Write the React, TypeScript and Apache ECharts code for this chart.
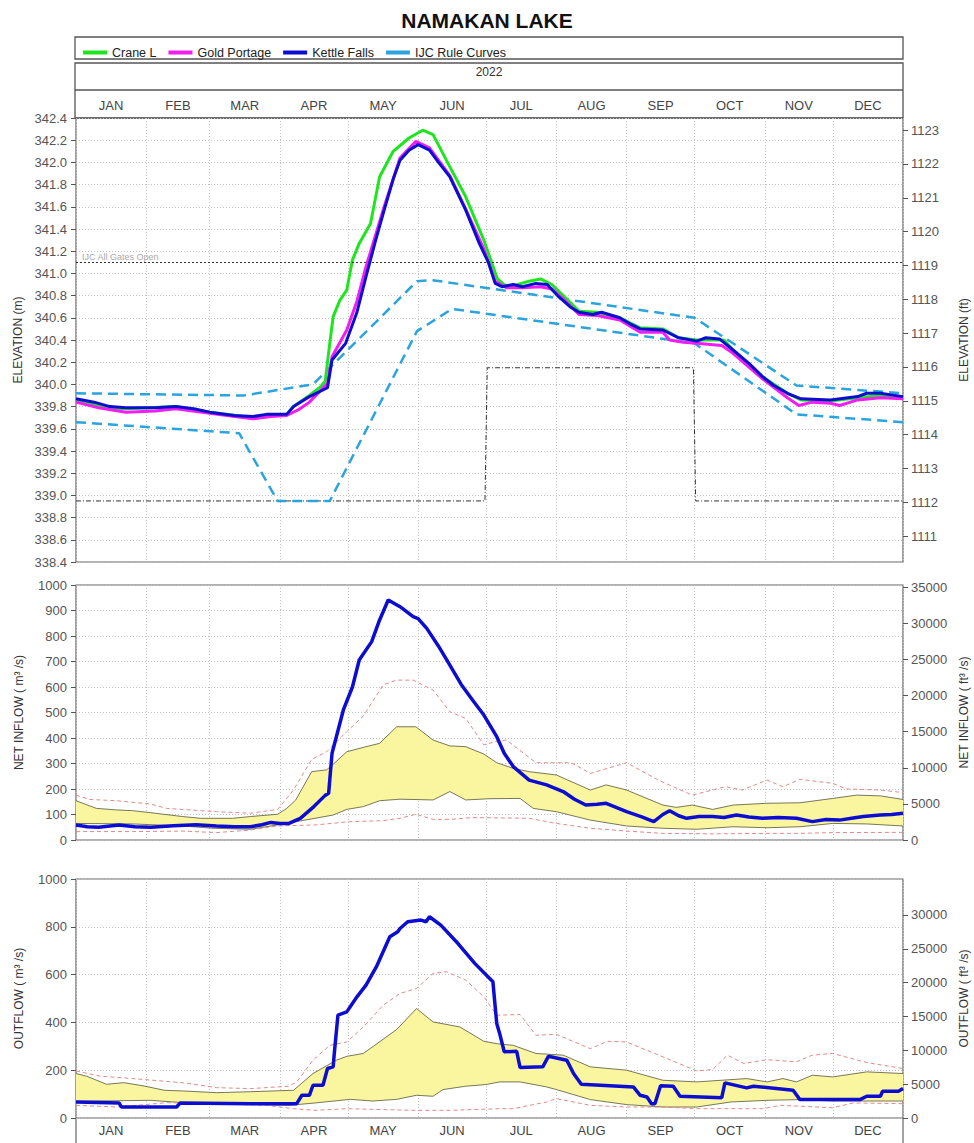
import React, { useEffect, useRef } from 'react';
import * as echarts from 'echarts';

const FONT = 'Arial, "Liberation Sans", Helvetica, sans-serif';

const titleText = 'NAMAKAN LAKE';
const yearLabel = '2022';
const months = ['JAN', 'FEB', 'MAR', 'APR', 'MAY', 'JUN', 'JUL', 'AUG', 'SEP', 'OCT', 'NOV', 'DEC'];
const monthStarts = [0, 31, 59, 90, 120, 151, 181, 212, 243, 273, 304, 334, 365];
const monthMids = months.map((_, i) => (monthStarts[i] + monthStarts[i + 1]) / 2);

const elevTicksFt = [1111, 1112, 1113, 1114, 1115, 1116, 1117, 1118, 1119, 1120, 1121, 1122, 1123];
const inflowTicksCfs = [0, 5000, 10000, 15000, 20000, 25000, 30000, 35000];
const outflowTicksCfs = [0, 5000, 10000, 15000, 20000, 25000, 30000];
const M_PER_FT = 0.3048;
const CFS_PER_CMS = 35.3147;
const gatesOpenLevel = 341.1;

// ---- Elevation (m), [day of year, value] ----
const craneL = [[0,339.86],[15,339.79],[22,339.78],[44,339.80],[59,339.75],[78,339.70],[93,339.73],[96,339.80],[103,339.90],[108,339.98],[110,340.03],[112,340.37],[113.5,340.61],[116.5,340.76],[119.5,340.85],[122,341.12],[125,341.27],[130,341.45],[134,341.87],[140,342.10],[147,342.22],[153,342.29],[157.6,342.25],[165,341.96],[172,341.69],[180,341.30],[186,340.95],[190,340.88],[195,340.90],[200,340.93],[205,340.95],[210,340.90],[215,340.80],[222,340.66],[230,340.65],[240,340.60],[249,340.51],[259,340.50],[266,340.42],[274,340.40],[280,340.40],[286,340.40],[290,340.31],[303,340.07],[314,339.92],[320,339.86],[333,339.85],[345,339.88],[355,339.90],[365,339.88]];
const goldPortage = [[0,339.84],[10,339.79],[22,339.75],[35,339.76],[44,339.78],[59,339.74],[70,339.71],[78,339.69],[86,339.71],[93,339.72],[98,339.77],[103,339.84],[111,340.01],[113,340.25],[119.5,340.49],[124,340.75],[128,341.06],[136,341.60],[143,342.04],[150,342.19],[156,342.13],[165,341.88],[172,341.58],[180,341.22],[185,340.93],[190,340.87],[197,340.87],[205,340.88],[210,340.86],[215,340.77],[222,340.63],[230,340.62],[240,340.58],[249,340.47],[259,340.47],[262,340.40],[268,340.38],[274,340.37],[280,340.36],[285,340.35],[290,340.28],[303,340.05],[314,339.88],[319,339.81],[325,339.84],[333,339.83],[337,339.81],[345,339.86],[355,339.88],[365,339.87]];
const kettleFallsElev = [[0,339.87],[8,339.84],[15,339.80],[22,339.79],[35,339.79],[44,339.80],[52,339.78],[59,339.75],[70,339.72],[78,339.71],[84,339.73],[93,339.73],[96,339.80],[103,339.89],[111,339.97],[113,340.22],[119,340.37],[124,340.65],[128,340.97],[132,341.28],[136,341.57],[140,341.85],[143,342.02],[147,342.11],[151,342.16],[156,342.11],[160,342.00],[165,341.87],[172,341.57],[178,341.27],[182,341.10],[185,340.91],[188,340.88],[193,340.90],[197,340.88],[203,340.91],[208,340.90],[213,340.79],[218,340.70],[222,340.65],[228,340.63],[232,340.65],[240,340.60],[245,340.54],[249,340.50],[259,340.49],[266,340.42],[274,340.39],[278,340.42],[284,340.41],[290,340.31],[297,340.19],[303,340.07],[308,339.99],[314,339.92],[320,339.87],[333,339.86],[345,339.89],[349,339.92],[355,339.92],[365,339.89]];
const ruleUpper = [[0,339.92],[74,339.90],[104.6,340.00],[150.5,340.93],[157,340.94],[273,340.60],[318,339.99],[365,339.92]];
const ruleLower = [[0,339.66],[72,339.56],[89,338.95],[112,338.95],[150.5,340.48],[166,340.68],[273,340.37],[318,339.73],[365,339.66]];
const droughtLine = [[0,338.95],[180.5,338.95],[181.5,340.15],[272.5,340.15],[273.5,338.95],[365,338.95]];

// ---- Net inflow (m3/s) ----
const inflowKettle = [[0,59],[5,52],[10,50],[19,59],[26,52],[33,50],[43,56],[53,60],[62,55],[70,52],[77,52],[82,60],[86,69],[90,65],[94,65],[99,85],[105,131],[110,175],[111.5,183],[113,340],[118,510],[122,600],[125,706],[130.5,778],[134,863],[137.8,941],[143,915],[148.8,876],[151,868],[154.8,830],[160,760],[165,686],[170,610],[175,549],[180,490],[185.7,405],[189,340],[193,288],[200,235],[207.7,216],[215,190],[220,160],[225,137],[230,140],[234,144],[243,111],[250,90],[255,72],[259,100],[262,115],[266,95],[269.5,85],[275,92],[281,92],[286,88],[291.5,98],[297,90],[303,85],[310,88],[318,85],[325,72],[331,80],[337,78],[343,86],[347.5,92],[355,98],[360,100],[365,105]];
const inflowBandUpper = [[0,154],[9,124],[18,118],[25,115],[33,107],[47,92],[55,85],[69,85],[77,92],[89,101],[93,124],[97,157],[104,268],[110.6,275],[114,301],[119.5,346],[128,366],[134,379],[141.5,444],[150,444],[157.6,392],[165,369],[172,366],[180,337],[185.7,303],[193,281],[200,268],[212,255],[227,196],[234,216],[243,196],[259,137],[265,128],[272,137],[281,120],[290,137],[305,144],[319.5,146],[334,163],[344.6,176],[355,173],[365,159]];
const inflowBandLower = [[0,65],[25,63],[47,55],[60.5,46],[77,42],[93,65],[113.5,98],[119.5,120],[126.8,131],[134,154],[143,160],[157.6,157],[165,190],[172,157],[182.7,162],[196,163],[201.8,124],[212,111],[227,78],[243,55],[259,46],[274,42],[290,52],[305,48],[319.5,52],[334,65],[349,63],[365,55]];
const inflowMax = [[0,176],[6,159],[18,154],[33,141],[40,124],[62,111],[77,105],[89,120],[96,196],[104,316],[110.6,346],[119.5,425],[126.8,486],[135.6,608],[141.5,627],[148.8,627],[157.6,588],[165,503],[172,477],[180,373],[185,386],[190,392],[203,303],[218.6,303],[227,261],[243,303],[257,235],[272,176],[286.6,209],[294,196],[305,235],[312,209],[319.5,238],[334,222],[340,200],[355,196],[365,186]];
const inflowMin = [[0,33],[25,33],[47,35],[62,29],[77,39],[89,55],[105.6,59],[121,72],[135.6,76],[143,85],[150,101],[157.6,81],[165,81],[175,88],[200,85],[212,65],[227,46],[243,35],[259,26],[281,24],[305,26],[319.5,26],[334,29],[365,30]];

// ---- Outflow (m3/s) ----
const outflowKettle = [[0,67],[19,63],[20,46],[44.4,46],[46,63],[77,60],[97.4,60],[99.7,95],[103,95],[104.6,137],[109,137],[111,207],[113.5,214],[114,270],[115.6,430],[119.5,444],[124,507],[128,556],[132.6,633],[138.5,758],[142,779],[143,793],[146.4,821],[152.3,828],[154.5,821],[156,842],[161,807],[168.6,730],[176,647],[184,570],[185.7,395],[187,353],[189,277],[194.5,279],[196,211],[206,214],[208.5,258],[216.6,242],[219.6,186],[223,141],[246,130],[249,95],[252,88],[254,60],[255.5,60],[258,135],[263.6,133],[266.6,91],[285,85],[286.4,147],[296,126],[299,133],[316.5,116],[319.5,77],[346,77],[349,91],[355,91],[356,112],[363,112],[365,123]];
const outflowBandUpper = [[0,186],[4.7,175],[13.5,141],[21,148],[30,134],[39,116],[47.5,113],[62,106],[77,110],[96,116],[104.6,186],[115,242],[119.5,258],[126.8,270],[141.5,370],[150.3,458],[157.6,402],[169.4,381],[180,321],[185.7,311],[193,304],[203,270],[215,263],[227,214],[243,200],[259,158],[274,151],[296,165],[305,151],[312,165],[318,151],[325,179],[334,172],[349,193],[365,186]];
const outflowBandLower = [[0,70],[32.7,74],[47.5,64],[62,60],[94,53],[105.6,63],[121,78],[131,71],[141.5,78],[150.3,95],[157.6,91],[162,119],[172,133],[181,140],[187,151],[196,151],[207.7,130],[212,119],[227,77],[243,56],[259,46],[274,46],[289,67],[305,74],[319.5,77],[334,71],[365,71]];
const outflowMax = [[0,197],[10.6,175],[25,165],[47.5,147],[62,127],[77,123],[94,133],[97.4,151],[104.6,242],[112,304],[119.5,318],[126.8,381],[135.6,472],[143,521],[150.3,542],[157.6,605],[163.5,612],[172,577],[180,507],[185.7,430],[196,433],[203,346],[212,350],[227,290],[234.6,321],[243,318],[259,256],[274,197],[281,203],[287.5,263],[294.8,228],[305,244],[318,235],[325,263],[334,270],[349,232],[365,207]];
const outflowMin = [[0,53],[18,46],[40,64],[62,60],[84,53],[96,39],[105.6,32],[119.5,39],[135.6,35],[150,32],[165,32],[187,39],[193,39],[207.7,67],[212,81],[227,53],[243,46],[259,46],[274,39],[303,39],[311,53],[334,43],[343,63],[365,60]];

const C_GREEN = '#1ee61e';
const C_MAGENTA = '#f01ef0';
const C_BLUE = '#0d0dd2';
const C_RULE = '#2ba3dd';
const C_RED = '#e08a8a';
const C_BAND = '#faf6a0';
const C_EDGE = '#55553a';

const monthName = (v: number) => {
  let best = 0;
  monthMids.forEach((m, i) => { if (Math.abs(m - v) < Math.abs(monthMids[best] - v)) best = i; });
  return months[best];
};

const dotted = { show: true, lineStyle: { color: '#c2c2c2', type: [1, 2] as any, width: 1 } };
const tickLabel = { color: '#555', fontSize: 13, fontFamily: FONT };
const nameStyle = { color: '#333', fontSize: 12, fontFamily: FONT };

function xAxisFor(gridIndex: number, position: string, showLabels: boolean) {
  return {
    type: 'value', gridIndex, min: 0, max: 365, position,
    axisLine: { show: false },
    axisTick: { show: false, customValues: monthStarts },
    axisLabel: showLabels
      ? { show: true, customValues: monthMids, formatter: monthName, color: '#444', fontSize: 13, fontFamily: FONT, margin: 6 }
      : { show: false },
    splitLine: dotted,
  };
}

function bandSeries(upper: number[][], lower: number[][], xi: number, yi: number) {
  return {
    type: 'custom', xAxisIndex: xi, yAxisIndex: yi, silent: true, z: 1,
    data: [[0, 0]],
    renderItem: (_p: any, api: any) => {
      const pts = upper.map((p) => api.coord(p)).concat(lower.slice().reverse().map((p) => api.coord(p)));
      return { type: 'polygon', shape: { points: pts }, style: { fill: C_BAND, stroke: null } };
    },
  };
}

function thin(data: number[][], xi: number, yi: number, color: string, dashed: boolean) {
  return {
    type: 'line', xAxisIndex: xi, yAxisIndex: yi, data, showSymbol: false, silent: true, z: 2,
    lineStyle: { color, width: dashed ? 1 : 0.8, type: dashed ? [4, 3] : 'solid' },
  };
}

function mainLine(name: string, data: number[][], xi: number, yi: number, color: string, width: number, z: number) {
  return {
    name, type: 'line', xAxisIndex: xi, yAxisIndex: yi, data, showSymbol: false, z,
    lineStyle: { color, width }, itemStyle: { color },
  };
}

const gridBase = { left: 76, width: 827, show: true, borderColor: '#666', borderWidth: 1.2, containLabel: false, outerBoundsMode: 'none' };

export default function App() {
  const ref = useRef<HTMLDivElement>(null);
  useEffect(() => {
    if (!ref.current) return;
    const chart = echarts.init(ref.current, null, { renderer: 'svg' });
    const option: any = {
      animation: false,
      backgroundColor: '#fff',
      textStyle: { fontFamily: FONT },
      title: { text: titleText, left: 'center', top: 5, textStyle: { fontSize: 21, fontWeight: 'bold', color: '#111', fontFamily: FONT } },
      legend: {
        data: ['Crane L', 'Gold Portage', 'Kettle Falls', 'IJC Rule Curves'],
        left: 78, top: 41, icon: 'rect', itemWidth: 24, itemHeight: 4, itemGap: 12,
        textStyle: { fontSize: 12.5, color: '#222', fontFamily: FONT },
      },
      grid: [
        { ...gridBase, top: 118, height: 444 },
        { ...gridBase, top: 585, height: 255 },
        { ...gridBase, top: 879, height: 239 },
      ],
      xAxis: [xAxisFor(0, 'top', true), xAxisFor(1, 'bottom', false), xAxisFor(2, 'bottom', true)],
      yAxis: [
        {
          type: 'value', gridIndex: 0, position: 'left', min: 338.4, max: 342.4, interval: 0.2,
          axisLine: { show: false }, axisTick: { show: true, length: 5, lineStyle: { color: '#555' } },
          axisLabel: { ...tickLabel, margin: 9, formatter: (v: number) => v.toFixed(1) },
          splitLine: dotted,
          name: 'ELEVATION (m)', nameLocation: 'middle', nameGap: 52, nameRotate: 90, nameTextStyle: nameStyle,
        },
        {
          type: 'value', gridIndex: 0, position: 'right', min: 338.4 / M_PER_FT, max: 342.4 / M_PER_FT,
          axisLine: { show: false }, axisTick: { show: true, length: 5, customValues: elevTicksFt, lineStyle: { color: '#555' } },
          axisLabel: { ...tickLabel, margin: 8, customValues: elevTicksFt, formatter: (v: number) => String(Math.round(v)) },
          splitLine: { show: false },
          name: 'ELEVATION (ft)', nameLocation: 'middle', nameGap: 55, nameRotate: 90, nameTextStyle: nameStyle,
        },
        {
          type: 'value', gridIndex: 1, position: 'left', min: 0, max: 1000, interval: 100,
          axisLine: { show: false }, axisTick: { show: true, length: 5, lineStyle: { color: '#555' } },
          axisLabel: { ...tickLabel, margin: 9, formatter: (v: number) => String(v) },
          splitLine: dotted,
          name: 'NET INFLOW ( m³ /s)', nameLocation: 'middle', nameGap: 51, nameRotate: 90, nameTextStyle: nameStyle,
        },
        {
          type: 'value', gridIndex: 1, position: 'right', min: 0, max: 1000 * CFS_PER_CMS,
          axisLine: { show: false }, axisTick: { show: true, length: 5, customValues: inflowTicksCfs, lineStyle: { color: '#555' } },
          axisLabel: { ...tickLabel, margin: 8, customValues: inflowTicksCfs, formatter: (v: number) => String(Math.round(v)) },
          splitLine: { show: false },
          name: 'NET INFLOW ( ft³ /s)', nameLocation: 'middle', nameGap: 55, nameRotate: 90, nameTextStyle: nameStyle,
        },
        {
          type: 'value', gridIndex: 2, position: 'left', min: 0, max: 1000, interval: 200,
          axisLine: { show: false }, axisTick: { show: true, length: 5, lineStyle: { color: '#555' } },
          axisLabel: { ...tickLabel, margin: 9, formatter: (v: number) => String(v) },
          splitLine: dotted,
          name: 'OUTFLOW ( m³ /s)', nameLocation: 'middle', nameGap: 51, nameRotate: 90, nameTextStyle: nameStyle,
        },
        {
          type: 'value', gridIndex: 2, position: 'right', min: 0, max: 1000 * CFS_PER_CMS,
          axisLine: { show: false }, axisTick: { show: true, length: 5, customValues: outflowTicksCfs, lineStyle: { color: '#555' } },
          axisLabel: { ...tickLabel, margin: 8, customValues: outflowTicksCfs, formatter: (v: number) => String(Math.round(v)) },
          splitLine: { show: false },
          name: 'OUTFLOW ( ft³ /s)', nameLocation: 'middle', nameGap: 55, nameRotate: 90, nameTextStyle: nameStyle,
        },
      ],
      graphic: [
        { type: 'rect', shape: { x: 75, y: 37, width: 828, height: 22 }, style: { fill: 'none', stroke: '#555', lineWidth: 1.3 }, silent: true },
        { type: 'rect', shape: { x: 75, y: 63, width: 828, height: 55 }, style: { fill: 'none', stroke: '#555', lineWidth: 1.3 }, silent: true },
        { type: 'line', shape: { x1: 75, y1: 90, x2: 903, y2: 90 }, style: { stroke: '#555', lineWidth: 1.3 }, silent: true },
        { type: 'text', x: 489, y: 72, style: { text: yearLabel, fontSize: 12, fill: '#333', fontFamily: FONT, align: 'center', verticalAlign: 'middle' }, silent: true },
        { type: 'line', shape: { x1: 76, y1: 1118, x2: 76, y2: 1143 }, style: { stroke: '#666', lineWidth: 1.2 }, silent: true },
        { type: 'line', shape: { x1: 903, y1: 1118, x2: 903, y2: 1143 }, style: { stroke: '#666', lineWidth: 1.2 }, silent: true },
      ],
      series: [
        // top panel
        {
          type: 'line', xAxisIndex: 0, yAxisIndex: 0, data: [], silent: true,
          markLine: {
            silent: true, symbol: 'none', data: [{ yAxis: gatesOpenLevel }],
            lineStyle: { color: '#333', type: [2, 2], width: 1 },
            label: { show: true, position: 'insideStartTop', formatter: 'IJC All Gates Open', color: '#aaa', fontSize: 9, fontFamily: FONT, distance: [6, 1] },
          },
        },
        { type: 'line', xAxisIndex: 0, yAxisIndex: 0, data: droughtLine, showSymbol: false, silent: true, z: 2,
          lineStyle: { color: '#333', width: 1, type: [5, 2, 1, 2] } },
        { name: 'IJC Rule Curves', type: 'line', xAxisIndex: 0, yAxisIndex: 0, data: ruleUpper, showSymbol: false, z: 3,
          lineStyle: { color: C_RULE, width: 2.5, type: [10, 6] }, itemStyle: { color: C_RULE } },
        { name: 'IJC Rule Curves', type: 'line', xAxisIndex: 0, yAxisIndex: 0, data: ruleLower, showSymbol: false, z: 3,
          lineStyle: { color: C_RULE, width: 2.5, type: [10, 6] }, itemStyle: { color: C_RULE } },
        mainLine('Crane L', craneL, 0, 0, C_GREEN, 3, 4),
        mainLine('Gold Portage', goldPortage, 0, 0, C_MAGENTA, 3, 5),
        mainLine('Kettle Falls', kettleFallsElev, 0, 0, C_BLUE, 3, 6),
        // middle panel
        bandSeries(inflowBandUpper, inflowBandLower, 1, 2),
        thin(inflowBandUpper, 1, 2, C_EDGE, false),
        thin(inflowBandLower, 1, 2, C_EDGE, false),
        thin(inflowMax, 1, 2, C_RED, true),
        thin(inflowMin, 1, 2, C_RED, true),
        mainLine('Kettle Falls', inflowKettle, 1, 2, C_BLUE, 3.5, 6),
        // bottom panel
        bandSeries(outflowBandUpper, outflowBandLower, 2, 4),
        thin(outflowBandUpper, 2, 4, C_EDGE, false),
        thin(outflowBandLower, 2, 4, C_EDGE, false),
        thin(outflowMax, 2, 4, C_RED, true),
        thin(outflowMin, 2, 4, C_RED, true),
        mainLine('Kettle Falls', outflowKettle, 2, 4, C_BLUE, 3.5, 6),
      ],
    };
    chart.setOption(option);
    return () => chart.dispose();
  }, []);
  return <div ref={ref} style={{ position: 'absolute', left: 0, top: 0, width: 974, height: 1143, background: '#fff' }} />;
}
